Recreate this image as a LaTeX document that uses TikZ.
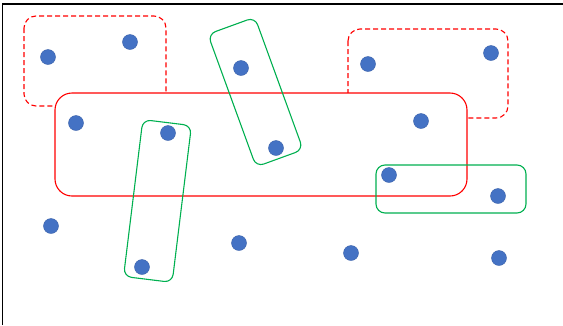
\documentclass[tikz,border=0pt]{standalone}
\begin{document}
\begin{tikzpicture}[x=1pt,y=-1pt,
  dot/.style={circle,fill={rgb,255:red,68;green,114;blue,196},draw={rgb,255:red,56;green,96;blue,170},line width=0.4pt,minimum size=15pt,inner sep=0pt},
  redgroup/.style={draw={rgb,255:red,255;green,0;blue,0},fill=white,line width=1.1pt,rounded corners=17pt},
  dashgroup/.style={draw={rgb,255:red,255;green,0;blue,0},line width=1.1pt,rounded corners=12pt,dash pattern=on 5pt off 3pt},
  greengroup/.style={draw={rgb,255:red,0;green,176;blue,80},line width=1.1pt,rounded corners=8pt,inner sep=0pt,fill=none}]
\useasboundingbox (0,0) rectangle (563,325);
\fill[white] (0,0) rectangle (563,325);
\coordinate (fa) at (2.5,325);
\coordinate (fb) at (2.5,4);
\coordinate (fc) at (563,4);
\draw[line width=1.3pt] (fa) -- (fb) -- (fc);
% groups
\draw[dashgroup] (24,16) rectangle (166,106);
\draw[dashgroup] (348,29) rectangle (508,118);
\draw[redgroup] (55,93) rectangle (467,196);
\draw[greengroup,rounded corners=9pt] (376,165) rectangle (526,213);
\node[greengroup,rotate=20,minimum width=50pt,minimum height=141pt] (g1) at (255.5,92) {};
\node[greengroup,rotate=-7,minimum width=49pt,minimum height=158pt] (g2) at (157.5,201) {};
% dots
\node[dot] (d1) at (48,57) {};
\node[dot] (d2) at (130,42) {};
\node[dot] (d3) at (241,68) {};
\node[dot] (d4) at (276,148) {};
\node[dot] (d5) at (368,64) {};
\node[dot] (d6) at (491,53) {};
\node[dot] (d7) at (76,123) {};
\node[dot] (d8) at (168,133) {};
\node[dot] (d9) at (421,121) {};
\node[dot] (d10) at (389,175) {};
\node[dot] (d11) at (498,196) {};
\node[dot] (d12) at (51,226) {};
\node[dot] (d13) at (142,267) {};
\node[dot] (d14) at (239,243) {};
\node[dot] (d15) at (351,253) {};
\node[dot] (d16) at (499,258) {};
\end{tikzpicture}
\end{document}
